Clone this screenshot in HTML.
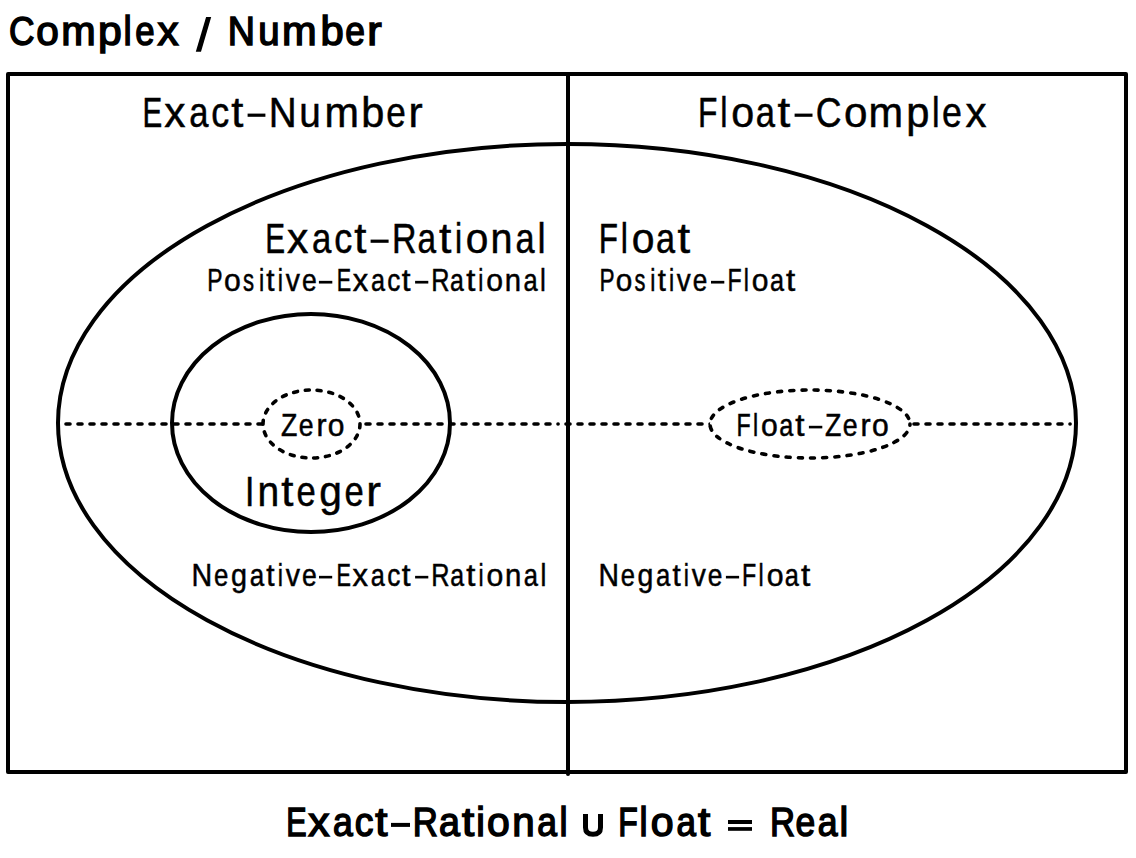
<!DOCTYPE html>
<html><head><meta charset="utf-8"><style>
html,body{margin:0;padding:0;background:#fff;overflow:hidden;}
svg{display:block;font-family:"Liberation Sans",sans-serif;}
</style></head><body>
<svg width="1136" height="858" viewBox="0 0 1136 858">
<rect x="0" y="0" width="1136" height="858" fill="#fff"/>
<g fill="none" stroke="#000">
<rect x="8" y="74" width="1118" height="698" stroke-width="4" stroke-linejoin="round"/>
<line x1="568" y1="74" x2="568" y2="774" stroke-width="4" stroke-linecap="round"/>
<ellipse cx="567" cy="423" rx="509" ry="279" stroke-width="4"/>
<ellipse cx="311" cy="423" rx="139" ry="109" stroke-width="4"/>
<g stroke-width="3.6" stroke-linecap="round" stroke-dasharray="4 8">
<path d="M66 424H558.1"/>
<path d="M566 424H1070.1"/>
</g>
<g stroke-width="3.6" stroke-linecap="round" stroke-dasharray="4 8" fill="#fff">
<ellipse cx="311.5" cy="424" rx="48.5" ry="34" stroke-dasharray="4 7.85" stroke-dashoffset="0.25"/>
<ellipse cx="810" cy="424" rx="100" ry="34" stroke-dasharray="4 8.2" stroke-dashoffset="2.75"/>
</g>
<path d="M585.5 814.1V827.5Q585.5 834.3 593 834.3Q600.5 834.3 600.5 827.5V814.1" stroke-width="5"/>
</g>
<g fill="#000">
<polygon points="206.1,17 211.2,17 201,51.8 195.8,51.8"/>
<rect x="247.6" y="113.6" width="17.80" height="3.20"/><rect x="794.6" y="113.6" width="17.90" height="3.20"/><rect x="370.6" y="239.6" width="18.00" height="3.20"/><rect x="318.9" y="280.85" width="13.40" height="2.70"/><rect x="415.1" y="280.85" width="13.20" height="2.70"/><rect x="711" y="280.85" width="13.30" height="2.70"/><rect x="808.9" y="425.8" width="13.40" height="2.60"/><rect x="319" y="575.85" width="13.20" height="2.60"/><rect x="415.1" y="575.85" width="13.20" height="2.60"/><rect x="725.9" y="575.85" width="13.20" height="2.60"/><rect x="391" y="822.9" width="19.00" height="4.00"/><rect x="728" y="820" width="24.00" height="4.00"/><rect x="728" y="827.1" width="24.00" height="3.70"/>
</g>
<g fill="#000" stroke="#000" stroke-width="0.5">
<text x="8.92" y="45.15" font-size="40" stroke-width="1.5" textLength="25.53" lengthAdjust="spacingAndGlyphs">C</text>
<text x="36.16" y="45.15" font-size="40" stroke-width="1.5" textLength="22.55" lengthAdjust="spacingAndGlyphs">o</text>
<text x="61.18" y="45.15" font-size="40" stroke-width="1.5" textLength="34.39" lengthAdjust="spacingAndGlyphs">m</text>
<text x="98.06" y="45.15" font-size="40" stroke-width="1.5" textLength="23.79" lengthAdjust="spacingAndGlyphs">p</text>
<text x="123.42" y="45.15" font-size="40" stroke-width="1.5" textLength="8.16" lengthAdjust="spacingAndGlyphs">l</text>
<text x="135.37" y="45.15" font-size="40" stroke-width="1.5" textLength="19.34" lengthAdjust="spacingAndGlyphs">e</text>
<text x="157.48" y="45.15" font-size="40" stroke-width="1.5" textLength="21.03" lengthAdjust="spacingAndGlyphs">x</text>
<text x="227.76" y="45.15" font-size="40" stroke-width="1.5" textLength="27.24" lengthAdjust="spacingAndGlyphs">N</text>
<text x="258.15" y="45.15" font-size="40" stroke-width="1.5" textLength="21.38" lengthAdjust="spacingAndGlyphs">u</text>
<text x="282.09" y="45.15" font-size="40" stroke-width="1.5" textLength="34.63" lengthAdjust="spacingAndGlyphs">m</text>
<text x="320.44" y="45.15" font-size="40" stroke-width="1.5" textLength="23.24" lengthAdjust="spacingAndGlyphs">b</text>
<text x="345.21" y="45.15" font-size="40" stroke-width="1.5" textLength="19.68" lengthAdjust="spacingAndGlyphs">e</text>
<text x="367.23" y="45.15" font-size="40" stroke-width="1.5" textLength="14.43" lengthAdjust="spacingAndGlyphs">r</text>
<text x="142.55" y="127" font-size="42" textLength="19.74" lengthAdjust="spacingAndGlyphs">E</text>
<text x="164.26" y="127" font-size="42" textLength="21.20" lengthAdjust="spacingAndGlyphs">x</text>
<text x="189.16" y="127" font-size="42" textLength="19.24" lengthAdjust="spacingAndGlyphs">a</text>
<text x="211.28" y="127" font-size="42" textLength="17.94" lengthAdjust="spacingAndGlyphs">c</text>
<text x="231.18" y="127" font-size="42" textLength="12.08" lengthAdjust="spacingAndGlyphs">t</text>
<text x="268.66" y="127" font-size="42" textLength="27.90" lengthAdjust="spacingAndGlyphs">N</text>
<text x="299.34" y="127" font-size="42" textLength="21.51" lengthAdjust="spacingAndGlyphs">u</text>
<text x="324.43" y="127" font-size="42" textLength="34.45" lengthAdjust="spacingAndGlyphs">m</text>
<text x="361.34" y="127" font-size="42" textLength="23.09" lengthAdjust="spacingAndGlyphs">b</text>
<text x="386.29" y="127" font-size="42" textLength="19.52" lengthAdjust="spacingAndGlyphs">e</text>
<text x="408.50" y="127" font-size="42" textLength="14.15" lengthAdjust="spacingAndGlyphs">r</text>
<text x="697.98" y="127" font-size="42" textLength="19.39" lengthAdjust="spacingAndGlyphs">F</text>
<text x="720.21" y="127" font-size="42" textLength="7.25" lengthAdjust="spacingAndGlyphs">l</text>
<text x="731.19" y="127" font-size="42" textLength="22.96" lengthAdjust="spacingAndGlyphs">o</text>
<text x="755.78" y="127" font-size="42" textLength="19.23" lengthAdjust="spacingAndGlyphs">a</text>
<text x="777.62" y="127" font-size="42" textLength="12.74" lengthAdjust="spacingAndGlyphs">t</text>
<text x="815.80" y="127" font-size="42" textLength="25.71" lengthAdjust="spacingAndGlyphs">C</text>
<text x="843.93" y="127" font-size="42" textLength="23.46" lengthAdjust="spacingAndGlyphs">o</text>
<text x="868.61" y="127" font-size="42" textLength="34.60" lengthAdjust="spacingAndGlyphs">m</text>
<text x="906.25" y="127" font-size="42" textLength="23.17" lengthAdjust="spacingAndGlyphs">p</text>
<text x="932.08" y="127" font-size="42" textLength="7.61" lengthAdjust="spacingAndGlyphs">l</text>
<text x="941.89" y="127" font-size="42" textLength="19.87" lengthAdjust="spacingAndGlyphs">e</text>
<text x="965.59" y="127" font-size="42" textLength="21.01" lengthAdjust="spacingAndGlyphs">x</text>
<text x="265.14" y="253" font-size="42" textLength="19.84" lengthAdjust="spacingAndGlyphs">E</text>
<text x="286.96" y="253" font-size="42" textLength="21.30" lengthAdjust="spacingAndGlyphs">x</text>
<text x="311.99" y="253" font-size="42" textLength="19.34" lengthAdjust="spacingAndGlyphs">a</text>
<text x="334.22" y="253" font-size="42" textLength="18.03" lengthAdjust="spacingAndGlyphs">c</text>
<text x="354.22" y="253" font-size="42" textLength="12.14" lengthAdjust="spacingAndGlyphs">t</text>
<text x="392.12" y="253" font-size="42" textLength="24.53" lengthAdjust="spacingAndGlyphs">R</text>
<text x="417.45" y="253" font-size="42" textLength="18.60" lengthAdjust="spacingAndGlyphs">a</text>
<text x="439.08" y="253" font-size="42" textLength="12.35" lengthAdjust="spacingAndGlyphs">t</text>
<text x="455.07" y="253" font-size="42" textLength="7.11" lengthAdjust="spacingAndGlyphs">i</text>
<text x="465.74" y="253" font-size="42" textLength="22.60" lengthAdjust="spacingAndGlyphs">o</text>
<text x="490.58" y="253" font-size="42" textLength="22.00" lengthAdjust="spacingAndGlyphs">n</text>
<text x="515.38" y="253" font-size="42" textLength="19.07" lengthAdjust="spacingAndGlyphs">a</text>
<text x="537.61" y="253" font-size="42" textLength="8.11" lengthAdjust="spacingAndGlyphs">l</text>
<text x="207.30" y="291" font-size="31.2" textLength="15.31" lengthAdjust="spacingAndGlyphs">P</text>
<text x="223.93" y="291" font-size="31.2" textLength="16.79" lengthAdjust="spacingAndGlyphs">o</text>
<text x="242.95" y="291" font-size="31.2" textLength="11.06" lengthAdjust="spacingAndGlyphs">s</text>
<text x="258.92" y="291" font-size="31.2" textLength="5.24" lengthAdjust="spacingAndGlyphs">i</text>
<text x="266.35" y="291" font-size="31.2" textLength="8.25" lengthAdjust="spacingAndGlyphs">t</text>
<text x="277.79" y="291" font-size="31.2" textLength="5.24" lengthAdjust="spacingAndGlyphs">i</text>
<text x="285.78" y="291" font-size="31.2" textLength="14.16" lengthAdjust="spacingAndGlyphs">v</text>
<text x="301.98" y="291" font-size="31.2" textLength="14.79" lengthAdjust="spacingAndGlyphs">e</text>
<text x="336.70" y="291" font-size="31.2" textLength="14.40" lengthAdjust="spacingAndGlyphs">E</text>
<text x="352.66" y="291" font-size="31.2" textLength="15.44" lengthAdjust="spacingAndGlyphs">x</text>
<text x="370.95" y="291" font-size="31.2" textLength="14.03" lengthAdjust="spacingAndGlyphs">a</text>
<text x="387.21" y="291" font-size="31.2" textLength="13.06" lengthAdjust="spacingAndGlyphs">c</text>
<text x="401.84" y="291" font-size="31.2" textLength="8.74" lengthAdjust="spacingAndGlyphs">t</text>
<text x="431.13" y="291" font-size="31.2" textLength="18.24" lengthAdjust="spacingAndGlyphs">R</text>
<text x="450.09" y="291" font-size="31.2" textLength="13.81" lengthAdjust="spacingAndGlyphs">a</text>
<text x="466.30" y="291" font-size="31.2" textLength="9.11" lengthAdjust="spacingAndGlyphs">t</text>
<text x="478.30" y="291" font-size="31.2" textLength="5.11" lengthAdjust="spacingAndGlyphs">i</text>
<text x="486.25" y="291" font-size="31.2" textLength="16.78" lengthAdjust="spacingAndGlyphs">o</text>
<text x="504.86" y="291" font-size="31.2" textLength="16.32" lengthAdjust="spacingAndGlyphs">n</text>
<text x="523.41" y="291" font-size="31.2" textLength="14.17" lengthAdjust="spacingAndGlyphs">a</text>
<text x="540.11" y="291" font-size="31.2" textLength="5.83" lengthAdjust="spacingAndGlyphs">l</text>
<text x="598.76" y="253" font-size="42" textLength="19.21" lengthAdjust="spacingAndGlyphs">F</text>
<text x="620.78" y="253" font-size="42" textLength="7.19" lengthAdjust="spacingAndGlyphs">l</text>
<text x="631.65" y="253" font-size="42" textLength="22.75" lengthAdjust="spacingAndGlyphs">o</text>
<text x="656.00" y="253" font-size="42" textLength="19.04" lengthAdjust="spacingAndGlyphs">a</text>
<text x="677.64" y="253" font-size="42" textLength="12.62" lengthAdjust="spacingAndGlyphs">t</text>
<text x="599.48" y="291" font-size="31.2" textLength="15.09" lengthAdjust="spacingAndGlyphs">P</text>
<text x="615.86" y="291" font-size="31.2" textLength="16.55" lengthAdjust="spacingAndGlyphs">o</text>
<text x="634.61" y="291" font-size="31.2" textLength="10.90" lengthAdjust="spacingAndGlyphs">s</text>
<text x="650.35" y="291" font-size="31.2" textLength="5.16" lengthAdjust="spacingAndGlyphs">i</text>
<text x="657.67" y="291" font-size="31.2" textLength="8.13" lengthAdjust="spacingAndGlyphs">t</text>
<text x="668.94" y="291" font-size="31.2" textLength="5.16" lengthAdjust="spacingAndGlyphs">i</text>
<text x="676.81" y="291" font-size="31.2" textLength="13.95" lengthAdjust="spacingAndGlyphs">v</text>
<text x="692.78" y="291" font-size="31.2" textLength="14.58" lengthAdjust="spacingAndGlyphs">e</text>
<text x="727.39" y="291" font-size="31.2" textLength="14.14" lengthAdjust="spacingAndGlyphs">F</text>
<text x="743.77" y="291" font-size="31.2" textLength="5.12" lengthAdjust="spacingAndGlyphs">l</text>
<text x="751.81" y="291" font-size="31.2" textLength="16.74" lengthAdjust="spacingAndGlyphs">o</text>
<text x="769.88" y="291" font-size="31.2" textLength="14.03" lengthAdjust="spacingAndGlyphs">a</text>
<text x="785.95" y="291" font-size="31.2" textLength="9.23" lengthAdjust="spacingAndGlyphs">t</text>
<text x="281.07" y="436" font-size="31.2" textLength="16.34" lengthAdjust="spacingAndGlyphs">Z</text>
<text x="298.74" y="436" font-size="31.2" textLength="14.84" lengthAdjust="spacingAndGlyphs">e</text>
<text x="316.42" y="436" font-size="31.2" textLength="10.07" lengthAdjust="spacingAndGlyphs">r</text>
<text x="327.84" y="436" font-size="31.2" textLength="16.68" lengthAdjust="spacingAndGlyphs">o</text>
<text x="736.58" y="436" font-size="31.2" textLength="14.19" lengthAdjust="spacingAndGlyphs">F</text>
<text x="753.02" y="436" font-size="31.2" textLength="5.14" lengthAdjust="spacingAndGlyphs">l</text>
<text x="761.08" y="436" font-size="31.2" textLength="16.79" lengthAdjust="spacingAndGlyphs">o</text>
<text x="779.20" y="436" font-size="31.2" textLength="14.07" lengthAdjust="spacingAndGlyphs">a</text>
<text x="795.32" y="436" font-size="31.2" textLength="9.26" lengthAdjust="spacingAndGlyphs">t</text>
<text x="825.06" y="436" font-size="31.2" textLength="16.39" lengthAdjust="spacingAndGlyphs">Z</text>
<text x="842.80" y="436" font-size="31.2" textLength="14.88" lengthAdjust="spacingAndGlyphs">e</text>
<text x="860.53" y="436" font-size="31.2" textLength="10.10" lengthAdjust="spacingAndGlyphs">r</text>
<text x="871.99" y="436" font-size="31.2" textLength="16.73" lengthAdjust="spacingAndGlyphs">o</text>
<text x="244.89" y="505.7" font-size="42" textLength="9.36" lengthAdjust="spacingAndGlyphs">I</text>
<text x="257.60" y="505.7" font-size="42" textLength="21.70" lengthAdjust="spacingAndGlyphs">n</text>
<text x="281.20" y="505.7" font-size="42" textLength="12.15" lengthAdjust="spacingAndGlyphs">t</text>
<text x="296.50" y="505.7" font-size="42" textLength="19.23" lengthAdjust="spacingAndGlyphs">e</text>
<text x="319.15" y="505.7" font-size="42" textLength="22.62" lengthAdjust="spacingAndGlyphs">g</text>
<text x="344.47" y="505.7" font-size="42" textLength="19.23" lengthAdjust="spacingAndGlyphs">e</text>
<text x="366.17" y="505.7" font-size="42" textLength="14.70" lengthAdjust="spacingAndGlyphs">r</text>
<text x="191.58" y="586" font-size="31.2" textLength="20.71" lengthAdjust="spacingAndGlyphs">N</text>
<text x="213.98" y="586" font-size="31.2" textLength="14.37" lengthAdjust="spacingAndGlyphs">e</text>
<text x="231.01" y="586" font-size="31.2" textLength="16.00" lengthAdjust="spacingAndGlyphs">g</text>
<text x="249.80" y="586" font-size="31.2" textLength="14.46" lengthAdjust="spacingAndGlyphs">a</text>
<text x="266.36" y="586" font-size="31.2" textLength="8.30" lengthAdjust="spacingAndGlyphs">t</text>
<text x="277.74" y="586" font-size="31.2" textLength="5.23" lengthAdjust="spacingAndGlyphs">i</text>
<text x="285.79" y="586" font-size="31.2" textLength="14.25" lengthAdjust="spacingAndGlyphs">v</text>
<text x="301.97" y="586" font-size="31.2" textLength="14.80" lengthAdjust="spacingAndGlyphs">e</text>
<text x="336.50" y="586" font-size="31.2" textLength="14.44" lengthAdjust="spacingAndGlyphs">E</text>
<text x="352.50" y="586" font-size="31.2" textLength="15.49" lengthAdjust="spacingAndGlyphs">x</text>
<text x="370.84" y="586" font-size="31.2" textLength="14.07" lengthAdjust="spacingAndGlyphs">a</text>
<text x="387.14" y="586" font-size="31.2" textLength="13.10" lengthAdjust="spacingAndGlyphs">c</text>
<text x="401.81" y="586" font-size="31.2" textLength="8.77" lengthAdjust="spacingAndGlyphs">t</text>
<text x="431.13" y="586" font-size="31.2" textLength="18.29" lengthAdjust="spacingAndGlyphs">R</text>
<text x="450.13" y="586" font-size="31.2" textLength="13.85" lengthAdjust="spacingAndGlyphs">a</text>
<text x="466.39" y="586" font-size="31.2" textLength="9.13" lengthAdjust="spacingAndGlyphs">t</text>
<text x="478.42" y="586" font-size="31.2" textLength="5.13" lengthAdjust="spacingAndGlyphs">i</text>
<text x="486.40" y="586" font-size="31.2" textLength="16.82" lengthAdjust="spacingAndGlyphs">o</text>
<text x="505.05" y="586" font-size="31.2" textLength="16.36" lengthAdjust="spacingAndGlyphs">n</text>
<text x="523.65" y="586" font-size="31.2" textLength="14.21" lengthAdjust="spacingAndGlyphs">a</text>
<text x="540.40" y="586" font-size="31.2" textLength="5.85" lengthAdjust="spacingAndGlyphs">l</text>
<text x="598.50" y="586" font-size="31.2" textLength="20.49" lengthAdjust="spacingAndGlyphs">N</text>
<text x="620.67" y="586" font-size="31.2" textLength="14.22" lengthAdjust="spacingAndGlyphs">e</text>
<text x="637.51" y="586" font-size="31.2" textLength="15.83" lengthAdjust="spacingAndGlyphs">g</text>
<text x="656.10" y="586" font-size="31.2" textLength="14.31" lengthAdjust="spacingAndGlyphs">a</text>
<text x="672.49" y="586" font-size="31.2" textLength="8.21" lengthAdjust="spacingAndGlyphs">t</text>
<text x="683.75" y="586" font-size="31.2" textLength="5.18" lengthAdjust="spacingAndGlyphs">i</text>
<text x="691.71" y="586" font-size="31.2" textLength="14.10" lengthAdjust="spacingAndGlyphs">v</text>
<text x="707.72" y="586" font-size="31.2" textLength="14.64" lengthAdjust="spacingAndGlyphs">e</text>
<text x="742.08" y="586" font-size="31.2" textLength="14.23" lengthAdjust="spacingAndGlyphs">F</text>
<text x="758.56" y="586" font-size="31.2" textLength="5.15" lengthAdjust="spacingAndGlyphs">l</text>
<text x="766.64" y="586" font-size="31.2" textLength="16.84" lengthAdjust="spacingAndGlyphs">o</text>
<text x="784.82" y="586" font-size="31.2" textLength="14.11" lengthAdjust="spacingAndGlyphs">a</text>
<text x="800.99" y="586" font-size="31.2" textLength="9.28" lengthAdjust="spacingAndGlyphs">t</text>
<text x="286.22" y="835.95" font-size="40" stroke-width="1.5" textLength="20.37" lengthAdjust="spacingAndGlyphs">E</text>
<text x="308.27" y="835.95" font-size="40" stroke-width="1.5" textLength="21.24" lengthAdjust="spacingAndGlyphs">x</text>
<text x="333.11" y="835.95" font-size="40" stroke-width="1.5" textLength="19.78" lengthAdjust="spacingAndGlyphs">a</text>
<text x="354.66" y="835.95" font-size="40" stroke-width="1.5" textLength="18.67" lengthAdjust="spacingAndGlyphs">c</text>
<text x="375.21" y="835.95" font-size="40" stroke-width="1.5" textLength="12.14" lengthAdjust="spacingAndGlyphs">t</text>
<text x="412.75" y="835.95" font-size="40" stroke-width="1.5" textLength="25.08" lengthAdjust="spacingAndGlyphs">R</text>
<text x="439.01" y="835.95" font-size="40" stroke-width="1.5" textLength="20.90" lengthAdjust="spacingAndGlyphs">a</text>
<text x="461.98" y="835.95" font-size="40" stroke-width="1.5" textLength="12.19" lengthAdjust="spacingAndGlyphs">t</text>
<text x="476.14" y="835.95" font-size="40" stroke-width="1.5" textLength="8.58" lengthAdjust="spacingAndGlyphs">i</text>
<text x="487.03" y="835.95" font-size="40" stroke-width="1.5" textLength="22.77" lengthAdjust="spacingAndGlyphs">o</text>
<text x="512.22" y="835.95" font-size="40" stroke-width="1.5" textLength="22.38" lengthAdjust="spacingAndGlyphs">n</text>
<text x="537.34" y="835.95" font-size="40" stroke-width="1.5" textLength="19.68" lengthAdjust="spacingAndGlyphs">a</text>
<text x="559.55" y="835.95" font-size="40" stroke-width="1.5" textLength="8.04" lengthAdjust="spacingAndGlyphs">l</text>
<text x="618.13" y="835.95" font-size="40" stroke-width="1.5" textLength="19.49" lengthAdjust="spacingAndGlyphs">F</text>
<text x="639.49" y="835.95" font-size="40" stroke-width="1.5" textLength="8.01" lengthAdjust="spacingAndGlyphs">l</text>
<text x="650.83" y="835.95" font-size="40" stroke-width="1.5" textLength="22.88" lengthAdjust="spacingAndGlyphs">o</text>
<text x="676.41" y="835.95" font-size="40" stroke-width="1.5" textLength="19.42" lengthAdjust="spacingAndGlyphs">a</text>
<text x="698.03" y="835.95" font-size="40" stroke-width="1.5" textLength="12.22" lengthAdjust="spacingAndGlyphs">t</text>
<text x="769.95" y="835.95" font-size="40" stroke-width="1.5" textLength="25.05" lengthAdjust="spacingAndGlyphs">R</text>
<text x="795.45" y="835.95" font-size="40" stroke-width="1.5" textLength="19.70" lengthAdjust="spacingAndGlyphs">e</text>
<text x="817.72" y="835.95" font-size="40" stroke-width="1.5" textLength="19.77" lengthAdjust="spacingAndGlyphs">a</text>
<text x="839.53" y="835.95" font-size="40" stroke-width="1.5" textLength="8.71" lengthAdjust="spacingAndGlyphs">l</text>

</g>
</svg>
</body></html>
